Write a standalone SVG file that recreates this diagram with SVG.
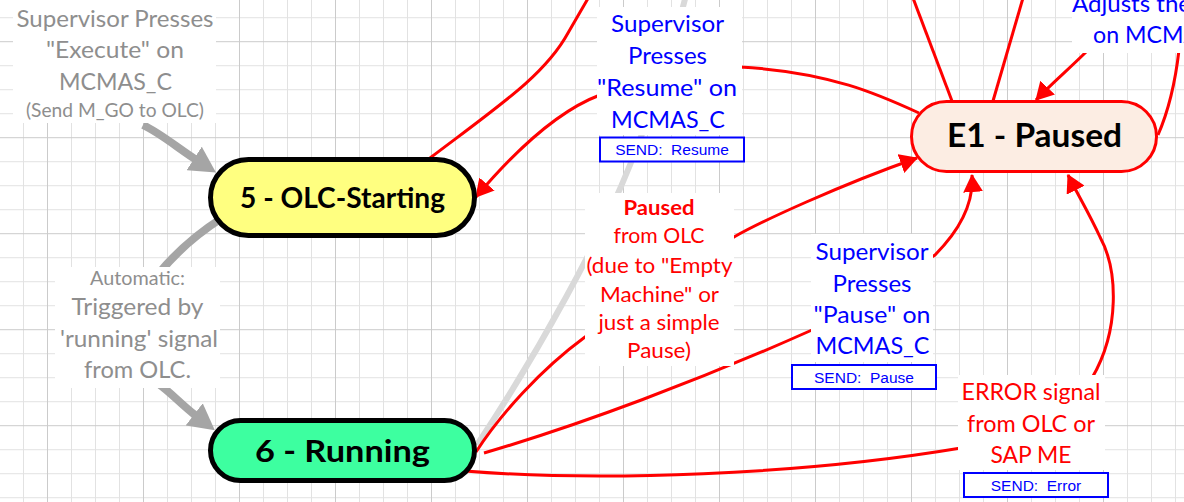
<svg xmlns="http://www.w3.org/2000/svg" width="1184" height="502" viewBox="0 0 1184 502">
<style>
.lbl{font-family:Lato,"Open Sans",sans-serif;font-size:23.4px;text-anchor:middle}
.sm{font-size:19px}
.gray{fill:#8e8e8e}
.blue{fill:#0000ff}
.red{fill:#ff0000}
.bg{fill:#ffffff}
.send rect{fill:#ffffff;stroke:#0000ff;stroke-width:2}
.send text{font-family:"Liberation Sans",Arial,sans-serif;font-size:15.5px;fill:#0000ff;text-anchor:middle;white-space:pre}
.node text{font-family:Lato,"Open Sans",sans-serif;font-weight:bold;text-anchor:middle;fill:#000}
.rl{fill:none;stroke:#ff0000;stroke-width:3}
.gl{fill:none;stroke:#a5a5a5;stroke-width:8}
.ll{fill:none;stroke:#d9d9d9;stroke-width:6}
</style>
<defs>
<pattern id="grid" x="47" y="41.2" width="96" height="96" patternUnits="userSpaceOnUse">
<path d="M24.5,0V96M48.5,0V96M72.5,0V96M0,24.5H96M0,48.5H96M0,72.5H96" stroke="#e2e2e2" stroke-width="1" fill="none"/>
<path d="M0.5,0V96M0,0.5H96" stroke="#cbcbcb" stroke-width="1" fill="none"/>
</pattern>
<marker id="ar" viewBox="0 0 18 20" refX="17" refY="10" markerWidth="18" markerHeight="20" markerUnits="userSpaceOnUse" orient="auto"><path d="M0,0L18,10L0,20z" fill="#ff0000"/></marker>
<marker id="ag" viewBox="0 0 26 28" refX="1" refY="14" markerWidth="26" markerHeight="28" markerUnits="userSpaceOnUse" orient="auto"><path d="M0,0L26,14L0,28z" fill="#a5a5a5"/></marker>
</defs>
<rect width="1184" height="502" fill="#ffffff"/>
<rect width="1184" height="502" fill="url(#grid)"/>

<g id="connectors">
<path class="ll" d="M477,445 C540,350 600,240 630,165 S675,40 686,-5"/>
<path class="gl" d="M143,125 C160,133 178,148 195,159" marker-end="url(#ag)"/>
<path class="gl" d="M222,218 C200,232 180,248 160,272"/>
<path class="gl" d="M160,385 C170,392 182,405 195,415" marker-end="url(#ag)"/>
<path class="rl" d="M919,113 C880,95 830,72 740,67 L600,95 C560,110 520,145 476,197" marker-end="url(#ar)"/>
<path class="rl" d="M430,158 C500,105 545,75 568,33 L590,-5"/>
<path class="rl" d="M952,101 L913,-2"/>
<path class="rl" d="M993,101 L1023,-2"/>
<path class="rl" d="M1158,135 C1168,112 1175,85 1179,50 L1179,30 L1090,30 L1086,52 C1070,68 1050,85 1036,100" marker-end="url(#ar)"/>
<path class="rl" d="M476,452 C500,415 540,370 585,337 L734,237 C760,222 840,185 917,158" marker-end="url(#ar)"/>
<path class="rl" d="M484,453 C580,425 700,380 812,330 L935,255 C958,232 974,205 972,175" marker-end="url(#ar)"/>
<path class="rl" d="M465,471 C600,482 800,475 961,448 L1092,378 C1120,330 1118,270 1100,237 C1090,215 1078,195 1068,175" marker-end="url(#ar)"/>
</g>

<g id="labels">
<g id="lbl-execute">
<rect class="bg" x="13" y="-2" width="203" height="125"/>
<text class="lbl gray" x="115" y="27" textLength="197" lengthAdjust="spacingAndGlyphs">Supervisor Presses</text>
<text class="lbl gray" x="115" y="58" textLength="138" lengthAdjust="spacingAndGlyphs">"Execute" on</text>
<text class="lbl gray" x="115.5" y="90" textLength="113" lengthAdjust="spacingAndGlyphs">MCMAS_C</text>
<text class="lbl gray sm" x="115" y="117" textLength="178" lengthAdjust="spacingAndGlyphs">(Send M_GO to OLC)</text>
</g>
<g id="lbl-automatic">
<rect class="bg" x="55" y="267" width="165" height="121"/>
<text class="lbl gray sm" x="137.5" y="285" textLength="95" lengthAdjust="spacingAndGlyphs">Automatic:</text>
<text class="lbl gray" x="137.5" y="315" textLength="132" lengthAdjust="spacingAndGlyphs">Triggered by</text>
<text class="lbl gray" x="139" y="347" textLength="158" lengthAdjust="spacingAndGlyphs">'running' signal</text>
<text class="lbl gray" x="137.5" y="378" textLength="107" lengthAdjust="spacingAndGlyphs">from OLC.</text>
</g>
<g id="lbl-resume">
<rect class="bg" x="597" y="7" width="145" height="128"/>
<text class="lbl blue" x="667.5" y="32" textLength="113" lengthAdjust="spacingAndGlyphs">Supervisor</text>
<text class="lbl blue" x="667.5" y="64" textLength="79" lengthAdjust="spacingAndGlyphs">Presses</text>
<text class="lbl blue" x="667" y="96" textLength="140" lengthAdjust="spacingAndGlyphs">"Resume" on</text>
<text class="lbl blue" x="668" y="128" textLength="114" lengthAdjust="spacingAndGlyphs">MCMAS_C</text>
<g class="send"><rect x="600" y="137.5" width="144" height="24"/><text x="672" y="155">SEND:  Resume</text></g>
</g>
<g id="lbl-paused-olc">
<rect class="bg" x="585" y="193" width="149" height="173"/>
<text class="lbl red" x="659" y="215" style="font-size:21.3px;font-weight:bold" textLength="71" lengthAdjust="spacingAndGlyphs">Paused</text>
<text class="lbl red" x="659" y="243" style="font-size:21.3px" textLength="91" lengthAdjust="spacingAndGlyphs">from OLC</text>
<text class="lbl red" x="659.5" y="273" style="font-size:21.3px" textLength="146" lengthAdjust="spacingAndGlyphs">(due to "Empty</text>
<text class="lbl red" x="659.5" y="302" style="font-size:21.3px" textLength="119" lengthAdjust="spacingAndGlyphs">Machine" or</text>
<text class="lbl red" x="659" y="330" style="font-size:21.3px" textLength="121" lengthAdjust="spacingAndGlyphs">just a simple</text>
<text class="lbl red" x="659" y="358" style="font-size:21.3px" textLength="64" lengthAdjust="spacingAndGlyphs">Pause)</text>
</g>
<g id="lbl-pause">
<rect class="bg" x="811" y="234" width="122" height="128"/>
<text class="lbl blue" x="872" y="260" textLength="113" lengthAdjust="spacingAndGlyphs">Supervisor</text>
<text class="lbl blue" x="872" y="292" textLength="79" lengthAdjust="spacingAndGlyphs">Presses</text>
<text class="lbl blue" x="872" y="323" textLength="117" lengthAdjust="spacingAndGlyphs">"Pause" on</text>
<text class="lbl blue" x="872.5" y="354" textLength="114" lengthAdjust="spacingAndGlyphs">MCMAS_C</text>
<g class="send"><rect x="792" y="365" width="144" height="24"/><text x="864" y="382.5">SEND:  Pause</text></g>
</g>
<g id="lbl-error">
<rect class="bg" x="958" y="375" width="147" height="95"/>
<text class="lbl red" x="1031" y="400" textLength="139" lengthAdjust="spacingAndGlyphs">ERROR signal</text>
<text class="lbl red" x="1031" y="432" textLength="128" lengthAdjust="spacingAndGlyphs">from OLC or</text>
<text class="lbl red" x="1031" y="463" textLength="81" lengthAdjust="spacingAndGlyphs">SAP ME</text>
<g class="send"><rect x="964" y="473" width="144" height="24"/><text x="1036" y="490.5">SEND:  Error</text></g>
</g>
<g id="lbl-adjusts">
<rect class="bg" x="1072" y="-2" width="115" height="55"/>
<text class="lbl blue" x="1072" y="12" style="text-anchor:start" textLength="119" lengthAdjust="spacingAndGlyphs">Adjusts the</text>
<text class="lbl blue" x="1093" y="43" style="text-anchor:start" textLength="145" lengthAdjust="spacingAndGlyphs">on MCMAS_C</text>
</g>
</g>

<g id="node-olc-starting" class="node">
<rect x="210.5" y="159.5" width="264" height="76" rx="38" fill="#ffff80" stroke="#000" stroke-width="5"/>
<text x="342.5" y="208" style="font-size:28px" textLength="205" lengthAdjust="spacingAndGlyphs">5 - OLC-Starting</text>
</g>
<g id="node-running" class="node">
<rect x="210.5" y="420.5" width="264" height="60" rx="30" fill="#3dffa0" stroke="#000" stroke-width="5"/>
<text x="342.5" y="462" style="font-size:30.5px" textLength="175" lengthAdjust="spacingAndGlyphs">6 - Running</text>
</g>
<g id="node-e1-paused" class="node">
<rect x="911.5" y="101.5" width="245" height="70" rx="35" fill="#fcede3" stroke="#ff0000" stroke-width="3"/>
<text x="1034.5" y="147" style="font-size:32px" textLength="175" lengthAdjust="spacingAndGlyphs">E1 - Paused</text>
</g>
</svg>
